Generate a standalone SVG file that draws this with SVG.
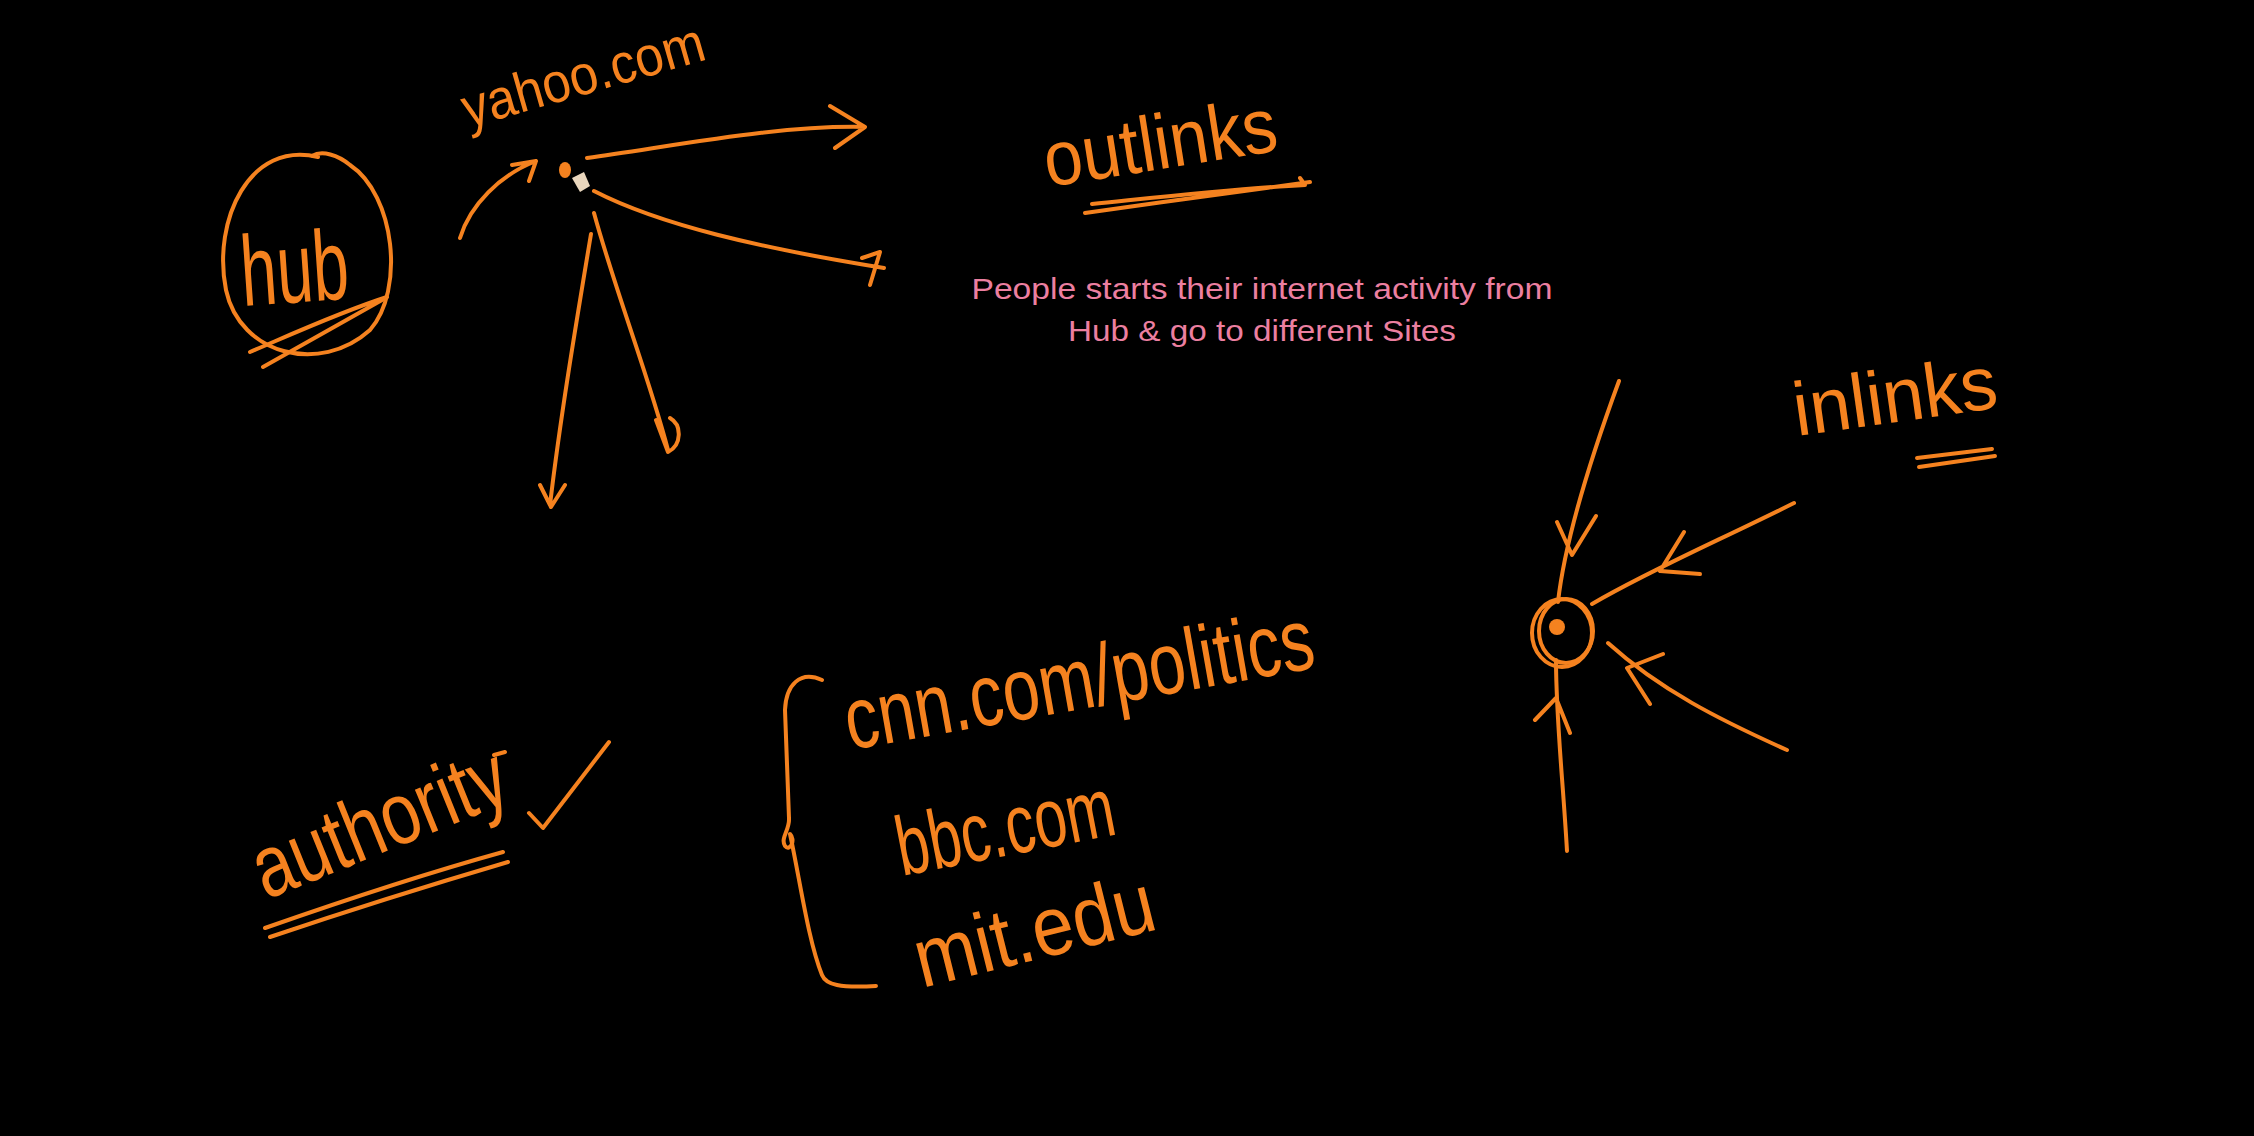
<svg xmlns="http://www.w3.org/2000/svg" width="2254" height="1136" viewBox="0 0 2254 1136">
<defs>
<style>
.ink{fill:none;stroke:#f5821f;stroke-width:4;stroke-linecap:round;stroke-linejoin:round}
.hw{fill:#f5821f;font-family:"Liberation Sans Narrow","Liberation Sans",sans-serif}
.note{fill:#ec7fa0;font-family:"Liberation Sans",sans-serif;font-size:29px;text-anchor:middle}
</style>
</defs>
<rect width="2254" height="1136" fill="#000"/>
<g id="hub">
<path class="ink" d="M318,157 C250,140 212,220 226,290 C240,355 320,375 370,330 C405,290 395,195 350,165 C338,155 322,150 312,156"/>
<text class="hw" x="243" y="306" font-size="100" textLength="108" lengthAdjust="spacingAndGlyphs" transform="rotate(-4 243 306)">hub</text>
<path class="ink" d="M263,367 L382,300 M250,352 C290,335 340,312 387,297"/>
</g>
<g id="yahoo">
<text class="hw" x="468" y="128" font-size="56" textLength="250" lengthAdjust="spacingAndGlyphs" transform="rotate(-16 468 128)">yahoo.com</text>
<ellipse cx="565" cy="170" rx="6" ry="8" fill="#f5821f"/>
<polygon points="572,178 584,172 590,186 580,192" fill="#e9d6bd"/>
</g>
<g id="outlinks">
<text class="hw" x="1048" y="187" font-size="78" textLength="235" lengthAdjust="spacingAndGlyphs" transform="rotate(-9 1048 187)">outlinks</text>
<path class="ink" d="M1085,213 C1160,202 1240,192 1310,182 M1092,204 C1170,196 1240,188 1305,185 L1300,178"/>
</g>
<g id="note">
<text class="note" x="1262" y="299" textLength="581" lengthAdjust="spacingAndGlyphs">People starts their internet activity from</text>
<text class="note" x="1262" y="341" textLength="388" lengthAdjust="spacingAndGlyphs">Hub &amp; go to different Sites</text>
</g>
<g id="inlinks">
<text class="hw" x="1797" y="436" font-size="76" textLength="205" lengthAdjust="spacingAndGlyphs" transform="rotate(-8 1797 436)">inlinks</text>
<path class="ink" d="M1919,467 L1995,456 M1917,458 L1992,449"/>
</g>
<g id="inlink-node">
<ellipse class="ink" cx="1562" cy="633" rx="30" ry="34"/>
<ellipse class="ink" cx="1566" cy="631" rx="27" ry="32"/>
<circle cx="1557" cy="627" r="8" fill="#f5821f"/>
</g>
<g id="authority">
<text class="hw" x="266" y="900" font-size="88" textLength="268" lengthAdjust="spacingAndGlyphs" transform="rotate(-22 266 900)">authority</text>
<path class="ink" d="M494,755 L505,752 M529,813 L543,828 L609,742 M270,937 C350,910 430,885 508,862 M265,928 C345,900 420,875 503,852"/>
</g>
<g id="sites">
<path class="ink" d="M822,680 C800,670 786,685 785,710 L789,818 C790,830 780,838 785,846 C790,852 796,840 790,834 C800,880 808,940 822,975 C826,985 840,988 876,986"/>
<text class="hw" x="850" y="750" font-size="88" textLength="475" lengthAdjust="spacingAndGlyphs" transform="rotate(-10 850 750)">cnn.com/politics</text>
<text class="hw" x="902" y="876" font-size="84" textLength="221" lengthAdjust="spacingAndGlyphs" transform="rotate(-11 902 876)">bbc.com</text>
<text class="hw" x="922" y="988" font-size="84" textLength="245" lengthAdjust="spacingAndGlyphs" transform="rotate(-14 922 988)">mit.edu</text>
</g>
<g id="connectors">
<path class="ink" d="M460,238 C470,205 500,175 536,161 M512,165 L536,161 L529,181"/>
<path class="ink" d="M587,158 C680,145 780,125 865,127 M830,106 L865,127 L835,148"/>
<path class="ink" d="M594,191 C660,225 760,248 884,268 M862,258 L880,252 L870,285"/>
<path class="ink" d="M591,234 C575,330 560,420 550,505 M540,485 L551,507 L565,485"/>
<path class="ink" d="M594,213 C615,290 650,380 668,450 M656,420 L668,452 C682,445 682,425 670,418"/>
<path class="ink" d="M1619,381 C1590,460 1565,540 1558,602 M1557,522 L1572,555 L1596,516"/>
<path class="ink" d="M1794,503 C1720,540 1650,570 1592,604 M1684,532 L1660,571 L1700,574"/>
<path class="ink" d="M1787,750 C1720,720 1660,690 1608,643 M1663,654 L1627,668 L1650,704"/>
<path class="ink" d="M1567,851 C1563,780 1556,720 1556,660 M1535,720 L1556,698 L1570,733"/>
</g>
</svg>
